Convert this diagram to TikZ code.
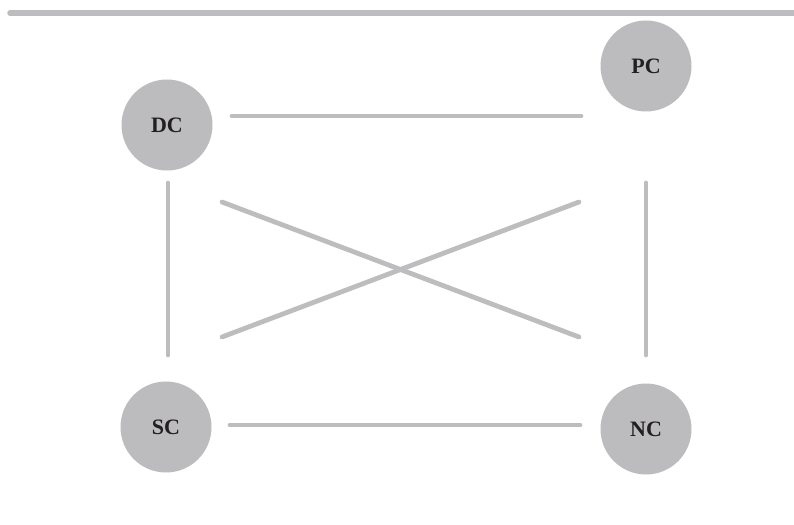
\documentclass[tikz,border=0pt]{standalone}
\usepackage{fontspec}
\setmainfont{Liberation Serif}
\definecolor{rulegray}{HTML}{BDBDC0}
\definecolor{nodegray}{HTML}{BCBCBF}
\definecolor{inkdark}{HTML}{231F20}
\begin{document}
\begin{tikzpicture}[x=1pt,y=-1pt,
  party/.style={circle, fill=nodegray, minimum size=91pt, inner sep=0pt,
    font=\fontsize{22}{22}\selectfont\bfseries, text=inkdark},
  link/.style={draw=rulegray, line width=4.8pt, line cap=round}]
  \useasboundingbox (0,0) rectangle (794,524);
  % header rule
  \coordinate (ruleL) at (10,13);
  \coordinate (ruleR) at (800,13);
  \draw[link, line width=5.5pt] (ruleL) -- (ruleR);
  % the four nodes
  \node[party] (DC) at (167,125) {DC};
  \node[party] (PC) at (646,66) {PC};
  \node[party] (SC) at (166,427) {SC};
  \node[party] (NC) at (646,429) {NC};
  % connector end points
  \coordinate (dcpcA) at (232,116); \coordinate (dcpcB) at (581,116);
  \coordinate (scncA) at (230,425); \coordinate (scncB) at (580,425);
  \coordinate (dcscA) at (168,183); \coordinate (dcscB) at (168,355);
  \coordinate (pcncA) at (646,183); \coordinate (pcncB) at (646,355);
  \coordinate (x1A) at (222,202); \coordinate (x1B) at (579,337);
  \coordinate (x2A) at (222,337); \coordinate (x2B) at (579,202);
  \draw[link] (dcpcA) -- (dcpcB);
  \draw[link] (scncA) -- (scncB);
  \draw[link] (dcscA) -- (dcscB);
  \draw[link] (pcncA) -- (pcncB);
  \draw[link] (x1A) -- (x1B);
  \draw[link] (x2A) -- (x2B);
\end{tikzpicture}
\end{document}
